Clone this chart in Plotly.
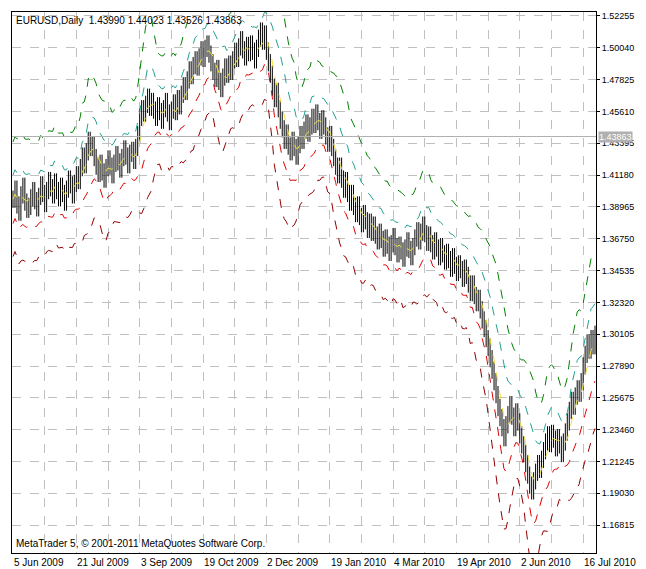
import plotly.graph_objects as go
import pandas as pd

closes = [
    1.395, 1.402, 1.391, 1.386, 1.398, 1.404, 1.393, 1.388, 1.390, 1.396,
    1.401, 1.394, 1.389, 1.397, 1.405, 1.399, 1.392, 1.401, 1.408, 1.403,
    1.398, 1.407, 1.401, 1.396, 1.404, 1.399, 1.393, 1.402, 1.409, 1.405,
    1.398, 1.406, 1.412, 1.408, 1.417, 1.425, 1.419, 1.428, 1.436, 1.431,
    1.433, 1.424, 1.418, 1.413, 1.420, 1.414, 1.409, 1.417, 1.423, 1.418,
    1.412, 1.420, 1.426, 1.421, 1.416, 1.424, 1.430, 1.425, 1.419, 1.427,
    1.429, 1.422, 1.431, 1.440, 1.452, 1.458, 1.455, 1.461, 1.466, 1.459,
    1.463, 1.457, 1.452, 1.460, 1.456, 1.450, 1.458, 1.463, 1.455, 1.449,
    1.457, 1.462, 1.456, 1.465, 1.460, 1.468, 1.474, 1.470, 1.478, 1.485,
    1.481, 1.488, 1.492, 1.487, 1.494, 1.499, 1.493, 1.500, 1.503, 1.496,
    1.490, 1.484, 1.479, 1.486, 1.477, 1.472, 1.480, 1.487, 1.482, 1.489,
    1.484, 1.492, 1.498, 1.493, 1.501, 1.506, 1.499, 1.494, 1.502, 1.497,
    1.503, 1.498, 1.492, 1.500, 1.507, 1.512, 1.505, 1.510, 1.498, 1.490,
    1.482, 1.473, 1.465, 1.470, 1.458, 1.450, 1.444, 1.436, 1.441, 1.432,
    1.428, 1.436, 1.431, 1.425, 1.433, 1.440, 1.436, 1.443, 1.448, 1.441,
    1.446, 1.452, 1.447, 1.455, 1.449, 1.443, 1.451, 1.446, 1.439, 1.434,
    1.440, 1.431, 1.424, 1.418, 1.412, 1.418, 1.409, 1.402, 1.408, 1.399,
    1.393, 1.399, 1.390, 1.385, 1.391, 1.383, 1.378, 1.385, 1.380, 1.374,
    1.379, 1.372, 1.377, 1.370, 1.366, 1.372, 1.367, 1.361, 1.368, 1.363,
    1.358, 1.364, 1.369, 1.362, 1.357, 1.363, 1.359, 1.354, 1.361, 1.366,
    1.360, 1.355, 1.362, 1.368, 1.373, 1.366, 1.372, 1.377, 1.371, 1.365,
    1.370, 1.364, 1.359, 1.366, 1.361, 1.355, 1.362, 1.357, 1.352, 1.358,
    1.353, 1.347, 1.355, 1.349, 1.344, 1.350, 1.346, 1.340, 1.347, 1.342,
    1.336, 1.330, 1.336, 1.328, 1.323, 1.326, 1.318, 1.311, 1.305, 1.298,
    1.292, 1.284, 1.276, 1.268, 1.259, 1.250, 1.243, 1.236, 1.229, 1.238,
    1.245, 1.252, 1.244, 1.236, 1.247, 1.240, 1.231, 1.224, 1.218, 1.211,
    1.203, 1.196, 1.192, 1.199, 1.205, 1.211, 1.207, 1.214, 1.220, 1.226,
    1.231, 1.225, 1.232, 1.228, 1.222, 1.229, 1.224, 1.218, 1.226, 1.233,
    1.240, 1.248, 1.255, 1.251, 1.258, 1.263, 1.260, 1.268, 1.279, 1.287,
    1.295, 1.290, 1.298, 1.293, 1.301,
]
date_labels = ["5 Jun 2009", "21 Jul 2009", "3 Sep 2009", "19 Oct 2009", "2 Dec 2009",
               "19 Jan 2010", "4 Mar 2010", "19 Apr 2010", "2 Jun 2010", "16 Jul 2010"]
price_ticks = [1.16815, 1.19030, 1.21245, 1.23460, 1.25675, 1.27890, 1.30105, 1.32320,
               1.34535, 1.36750, 1.38965, 1.41180, 1.43395, 1.45610, 1.47825, 1.50040, 1.52255]
bid = 1.43863

s = pd.Series(closes)
opens = s.shift(1).fillna(s.iloc[0])
highs = pd.concat([opens, s], axis=1).max(axis=1) + 0.006
lows = pd.concat([opens, s], axis=1).min(axis=1) - 0.006
x = list(range(len(closes)))

ma = s.rolling(5, min_periods=1).mean()
sd = s.rolling(10, min_periods=2).std().bfill()

fig = go.Figure()
bands = [
    (ma + 0.03 + 2.0 * sd, "#008000"),
    (ma + 0.012 + 1.0 * sd, "#20a090"),
    (ma, "#f0e040"),
    (ma - 0.012 - 1.0 * sd, "#e00000"),
    (ma - 0.03 - 2.0 * sd, "#900000"),
]
for band, col in bands:
    fig.add_trace(go.Scatter(x=x, y=band, mode="lines",
                             line=dict(color=col, width=1, dash="dash")))

fig.add_trace(go.Ohlc(x=x, open=opens, high=highs, low=lows, close=s,
                      increasing_line_color="black", decreasing_line_color="black",
                      line_width=1, tickwidth=0))

fig.add_shape(type="line", xref="paper", x0=0, x1=1, y0=bid, y1=bid,
              line=dict(color="#b0b0b0", width=1))

ann = [dict(text="EURUSD,Daily  1.43990 1.44023 1.43526 1.43863", xref="paper", yref="paper",
            x=0.003, y=0.998, xanchor="left", yanchor="top", showarrow=False,
            font=dict(size=10, color="black")),
       dict(text="MetaTrader 5, © 2001-2011 MetaQuotes Software Corp.", xref="paper", yref="paper",
            x=0.003, y=0.003, xanchor="left", yanchor="bottom", showarrow=False,
            font=dict(size=10, color="black")),
       dict(text="1.43863", xref="paper", x=1.004, y=bid, xanchor="left", showarrow=False,
            bgcolor="#b0b0b0", borderpad=0, font=dict(size=9, color="white"))]
for k, lab in enumerate(date_labels):
    ann.append(dict(text=lab, x=k * 32 - 0.5, xref="x", yref="paper", y=-0.004,
                    xanchor="left", yanchor="top", showarrow=False,
                    font=dict(size=10, color="black")))

fig.update_layout(
    width=646, height=569, showlegend=False,
    margin=dict(l=4, r=58, t=4, b=24),
    paper_bgcolor="white", plot_bgcolor="white",
    font=dict(family="Liberation Sans", size=9, color="black"),
    annotations=ann,
    xaxis=dict(range=[-0.5, 294.5], rangeslider_visible=False,
               tickvals=list(range(0, 295, 16)), showticklabels=False,
               showgrid=True, gridcolor="#c0c0c0", griddash="dash", zeroline=False,
               showline=True, linecolor="black", mirror=True, ticks=""),
    yaxis=dict(range=[1.14877, 1.52530], side="right", tickvals=price_ticks,
               ticktext=[f"{p:.5f}" for p in price_ticks],
               showgrid=True, gridcolor="#c0c0c0", griddash="dash",
               zeroline=False, showline=True, linecolor="black", mirror=True,
               ticks="outside", ticklen=3, tickcolor="black"),
)
fig.write_html("out.html")
